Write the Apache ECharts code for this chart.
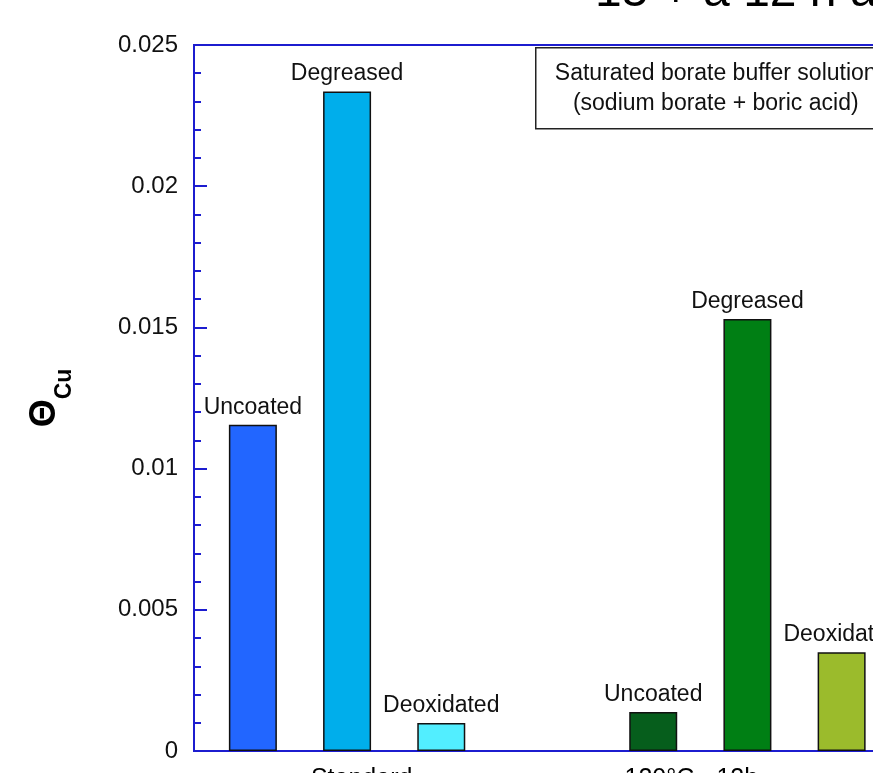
<!DOCTYPE html>
<html>
<head>
<meta charset="utf-8">
<script src="https://cdn.jsdelivr.net/npm/echarts@6/dist/echarts.min.js"></script>
<style>
  html, body { margin: 0; padding: 0; background: #fff; }
  #chart { width: 873px; height: 773px; }
</style>
</head>
<body>
<div id="chart"></div>
<script>
// coverage of copper, two surface states, three pre-treatments each
var groups = ['Standard', '120°C - 12h'];
var treatments = ['Uncoated', 'Degreased', 'Deoxidated'];
var standardValues = [0.01155, 0.02335, 0.00099];
var heatValues = [0.00138, 0.0153, 0.0035];
var standardColors = ['#2266FF', '#00AEEB', '#52EEFF'];
var heatColors = ['#065E1C', '#007F14', '#9BBB2C'];
var yTicks = [0, 0.005, 0.01, 0.015, 0.02, 0.025];

// bars sit in narrow slots so the gap between groups can be wider than the gap inside a group
var slotCount = 30;
var groupFirstSlot = [2, 19];
var groupLabelSlot = [7, 21];
var slotStep = 4;

var axisBlue = '#1c1ccf';
var font = '"Liberation Sans", Arial, sans-serif';

var slots = [];
var barData = [];
for (var i = 0; i < slotCount; i++) {
    slots.push('');
    barData.push(null);
}
var groupValues = [standardValues, heatValues];
var groupColors = [standardColors, heatColors];
for (var g = 0; g < groups.length; g++) {
    for (var m = 0; m < treatments.length; m++) {
        var idx = groupFirstSlot[g] + m * slotStep;
        barData[idx] = {
            value: groupValues[g][m],
            itemStyle: { color: groupColors[g][m] },
            label: { formatter: treatments[m] }
        };
    }
    slots[groupLabelSlot[g]] = groups[g];
}

var chart = echarts.init(document.getElementById('chart'));

chart.setOption({
    animation: false,
    title: {
        text: '15 + a 12 h a',
        left: 590,
        top: -36,
        textStyle: { fontSize: 48, fontWeight: 'normal', color: '#000', fontFamily: font }
    },
    grid: {
        left: 194,
        top: 45,
        width: 706.5,
        height: 706,
        outerBoundsMode: 'none',
        containLabel: false,
        show: true,
        borderColor: axisBlue,
        borderWidth: 2,
        backgroundColor: 'transparent'
    },
    xAxis: {
        type: 'category',
        data: slots,
        axisLine: { show: true, lineStyle: { color: axisBlue, width: 2 } },
        axisTick: { show: false },
        axisLabel: { interval: 0, fontSize: 25, color: '#000', fontFamily: font, margin: 16, padding: [0, 18, 0, 0] },
        splitLine: { show: false }
    },
    yAxis: {
        type: 'value',
        min: yTicks[0],
        max: yTicks[yTicks.length - 1],
        interval: yTicks[1] - yTicks[0],
        name: '{t|Θ}{s|Cu}',
        nameLocation: 'middle',
        nameRotate: 90,
        nameGap: 131,
        nameTextStyle: {
            rich: {
                t: { fontSize: 36, fontWeight: 'bold', color: '#000', fontFamily: font,
                     verticalAlign: 'top', lineHeight: 36 },
                s: { fontSize: 23, fontWeight: 'bold', color: '#000', fontFamily: font,
                     lineHeight: 23, padding: [40, 0, 0, 0] }
            }
        },
        axisLine: { show: true, lineStyle: { color: axisBlue, width: 2 } },
        axisTick: { show: true, inside: true, length: 13, lineStyle: { color: axisBlue, width: 2 } },
        minorTick: { show: true, splitNumber: 5, length: 7, lineStyle: { color: axisBlue, width: 2 } },
        splitLine: { show: false },
        axisLabel: {
            fontSize: 24,
            color: '#111',
            fontFamily: font,
            margin: 16,
            formatter: function (v) { return v === 0 ? '0' : String(+v.toFixed(3)); }
        }
    },
    series: [{
        type: 'bar',
        data: barData,
        barWidth: 48,
        itemStyle: { borderColor: '#111', borderWidth: 1.5 },
        label: {
            show: true,
            position: 'top',
            distance: 6,
            fontSize: 23,
            color: '#111',
            fontFamily: font
        }
    }],
    graphic: [{
        type: 'group',
        left: 535,
        top: 47,
        children: [{
            type: 'rect',
            shape: { x: 0, y: 0, width: 365, height: 81 },
            style: { fill: '#fff', stroke: '#222', lineWidth: 1.5 }
        }, {
            type: 'text',
            x: 180,
            y: 41,
            style: {
                text: 'Saturated borate buffer solution\n(sodium borate + boric acid)',
                fontSize: 23,
                lineHeight: 30,
                fontFamily: font,
                fill: '#111',
                align: 'center',
                verticalAlign: 'middle'
            }
        }]
    }]
});
</script>
</body>
</html>
